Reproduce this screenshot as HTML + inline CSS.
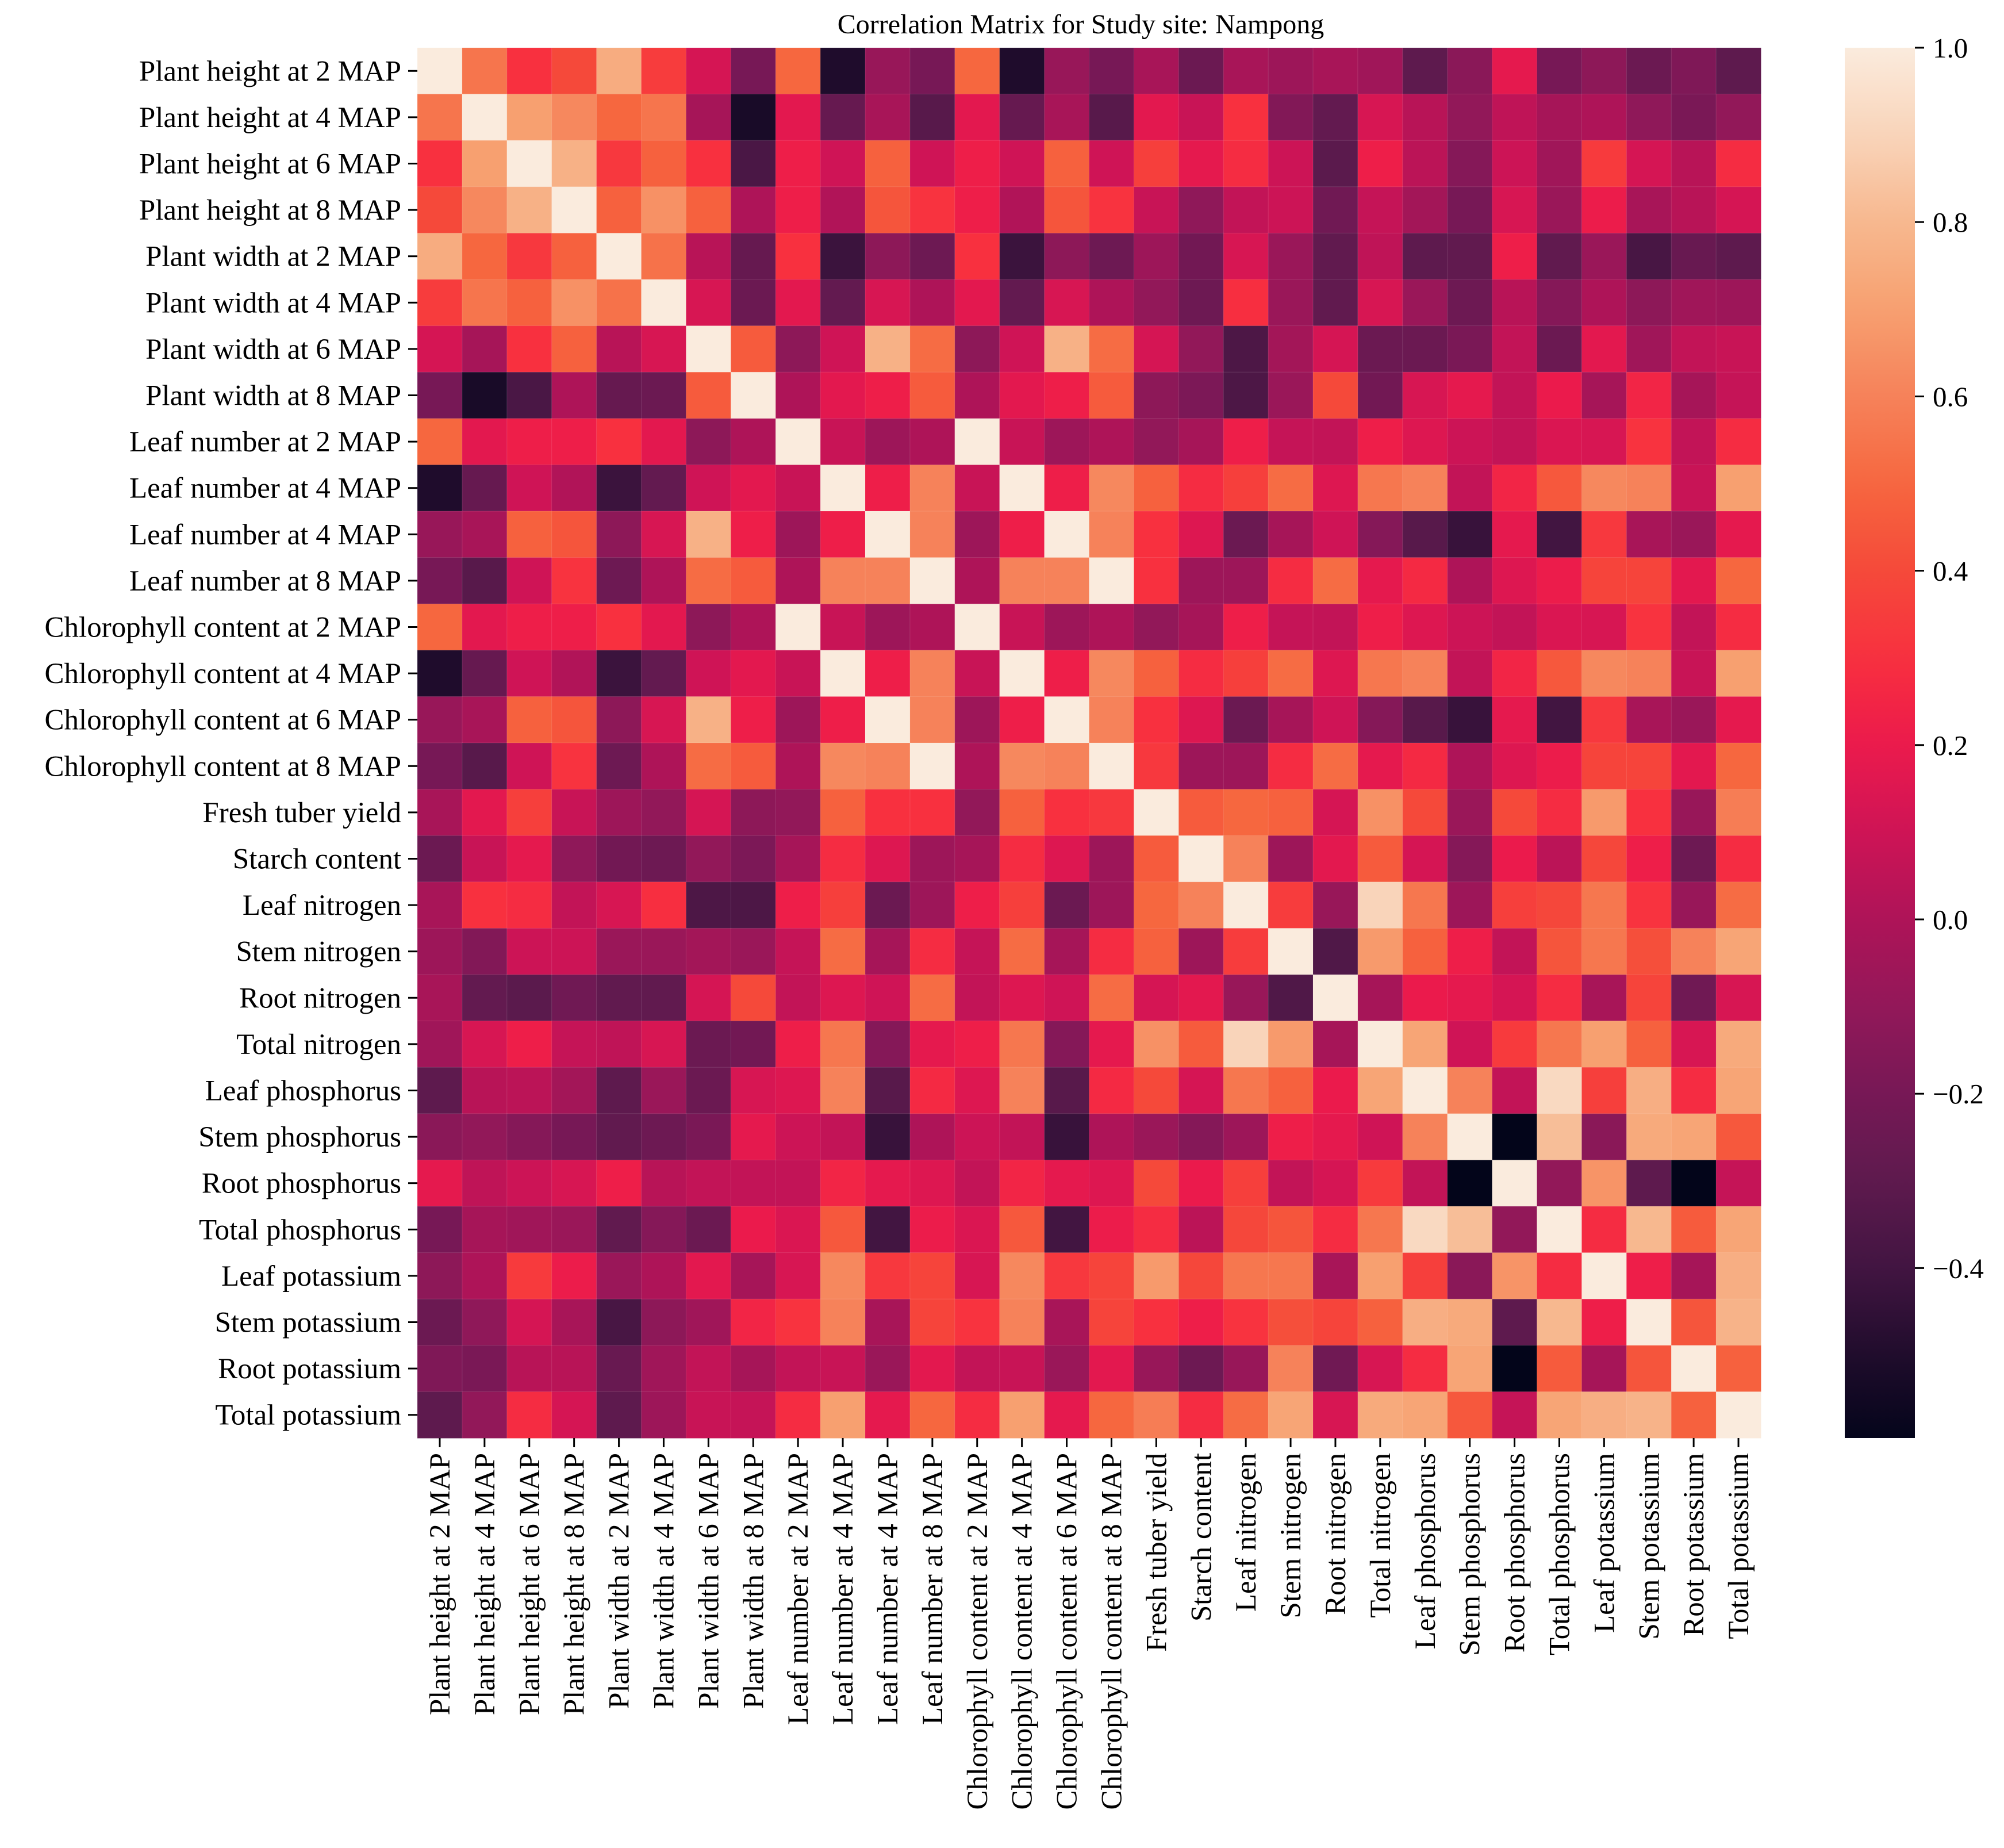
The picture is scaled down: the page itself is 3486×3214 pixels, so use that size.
<!DOCTYPE html>
<html><head><meta charset="utf-8"><style>
html,body{margin:0;padding:0;background:#fff;}
svg{display:block;}
text{font-family:"Liberation Serif",serif;fill:#000;}
</style></head><body>
<svg id="chart" width="3486" height="3214" viewBox="0 0 3486 3214" xmlns="http://www.w3.org/2000/svg">
<text x="1880" y="58" font-size="48" text-anchor="middle">Correlation Matrix for Study site: Nampong</text>
<g id="cells"></g>
<g id="ylabels"></g>
<g id="xlabels"></g>
<defs><linearGradient id="cbgrad" x1="0" y1="1" x2="0" y2="0"></linearGradient></defs>
<rect id="cbar" x="3209" y="83" width="122" height="2418" fill="url(#cbgrad)"/>
<g id="cbticks"></g>
</svg>
<script>
const labels = ["Plant height at 2 MAP","Plant height at 4 MAP","Plant height at 6 MAP","Plant height at 8 MAP","Plant width at 2 MAP","Plant width at 4 MAP","Plant width at 6 MAP","Plant width at 8 MAP","Leaf number at 2 MAP","Leaf number at 4 MAP","Leaf number at 4 MAP","Leaf number at 8 MAP","Chlorophyll content at 2 MAP","Chlorophyll content at 4 MAP","Chlorophyll content at 6 MAP","Chlorophyll content at 8 MAP","Fresh tuber yield","Starch content","Leaf nitrogen","Stem nitrogen","Root nitrogen","Total nitrogen","Leaf phosphorus","Stem phosphorus","Root phosphorus","Total phosphorus","Leaf potassium","Stem potassium","Root potassium","Total potassium"];
// upper-triangle rows: upper[i][k] = corr(i, i+k)
const upper = [
[1,0.55,0.3,0.4,0.75,0.35,0.12,-0.2,0.5,-0.5,-0.08,-0.2,0.5,-0.5,-0.08,-0.2,-0.02,-0.25,-0.02,-0.06,-0.02,-0.05,-0.3,-0.13,0.18,-0.2,-0.12,-0.25,-0.17,-0.3],
[1,0.7,0.62,0.5,0.55,-0.03,-0.52,0.17,-0.27,-0.02,-0.32,0.17,-0.27,-0.02,-0.32,0.17,0.08,0.3,-0.16,-0.28,0.13,0.03,-0.1,0.05,-0.03,0.0,-0.11,-0.19,-0.1],
[1,0.77,0.33,0.48,0.3,-0.37,0.22,0.1,0.48,0.1,0.22,0.1,0.48,0.1,0.36,0.18,0.28,0.09,-0.31,0.22,0.04,-0.15,0.09,-0.05,0.34,0.12,0.03,0.28],
[1,0.48,0.65,0.48,0.0,0.22,0.01,0.44,0.31,0.22,0.01,0.44,0.31,0.08,-0.11,0.06,0.09,-0.23,0.07,-0.04,-0.2,0.13,-0.07,0.21,-0.02,0.03,0.12],
[1,0.54,0.03,-0.27,0.3,-0.42,-0.12,-0.24,0.3,-0.42,-0.12,-0.24,-0.06,-0.22,0.13,-0.07,-0.29,0.05,-0.3,-0.29,0.22,-0.29,-0.07,-0.38,-0.26,-0.3],
[1,0.13,-0.25,0.17,-0.28,0.13,0.0,0.17,-0.28,0.13,0.0,-0.1,-0.24,0.29,-0.07,-0.29,0.13,-0.07,-0.24,0.03,-0.15,0.0,-0.12,-0.05,-0.06],
[1,0.46,-0.12,0.1,0.77,0.52,-0.12,0.1,0.77,0.52,0.12,-0.1,-0.36,-0.04,0.12,-0.25,-0.25,-0.19,0.06,-0.25,0.17,-0.05,0.06,0.08],
[1,0.0,0.17,0.22,0.46,0.0,0.17,0.22,0.46,-0.12,-0.18,-0.36,-0.07,0.4,-0.22,0.13,0.18,0.06,0.2,-0.03,0.25,-0.03,0.07],
[1,0.08,-0.06,0.0,1,0.08,-0.06,0.0,-0.1,-0.03,0.22,0.07,0.06,0.22,0.15,0.09,0.06,0.14,0.13,0.31,0.06,0.28],
[1,0.22,0.6,0.08,1,0.22,0.62,0.48,0.28,0.36,0.52,0.15,0.56,0.6,0.06,0.25,0.45,0.62,0.6,0.08,0.7],
[1,0.6,-0.06,0.22,1,0.6,0.3,0.15,-0.25,-0.03,0.1,-0.15,-0.32,-0.43,0.18,-0.4,0.33,-0.02,-0.07,0.18],
[1,0.0,0.6,0.6,1,0.3,-0.06,-0.06,0.28,0.52,0.18,0.27,0.0,0.15,0.21,0.38,0.38,0.17,0.5],
[1,0.08,-0.06,0.0,-0.1,-0.03,0.22,0.07,0.06,0.22,0.15,0.09,0.06,0.14,0.13,0.31,0.06,0.28],
[1,0.22,0.62,0.48,0.28,0.36,0.52,0.15,0.56,0.6,0.06,0.25,0.45,0.62,0.6,0.08,0.7],
[1,0.6,0.3,0.15,-0.25,-0.03,0.1,-0.15,-0.32,-0.43,0.18,-0.4,0.33,-0.02,-0.07,0.18],
[1,0.33,-0.06,-0.06,0.28,0.52,0.18,0.27,0.0,0.15,0.21,0.38,0.38,0.17,0.5],
[1,0.46,0.5,0.48,0.12,0.65,0.4,-0.07,0.4,0.28,0.68,0.3,-0.08,0.58],
[1,0.6,-0.06,0.17,0.46,0.12,-0.15,0.2,0.04,0.39,0.22,-0.24,0.28],
[1,0.35,-0.08,0.9,0.56,-0.06,0.36,0.39,0.56,0.31,-0.08,0.52],
[1,-0.35,0.68,0.48,0.22,0.06,0.44,0.56,0.42,0.6,0.72],
[1,-0.03,0.2,0.18,0.12,0.28,-0.02,0.38,-0.23,0.13],
[1,0.72,0.1,0.34,0.56,0.7,0.48,0.13,0.74],
[1,0.6,0.06,0.92,0.36,0.76,0.28,0.72],
[1,-0.6,0.82,-0.13,0.74,0.72,0.45],
[1,-0.1,0.66,-0.3,-0.6,0.07],
[1,0.28,0.8,0.46,0.72],
[1,0.22,-0.03,0.76],
[1,0.44,0.78],
[1,0.48],
[1]
];
const cbTicks = [-0.4,-0.2,0.0,0.2,0.4,0.6,0.8,1.0];
const vmin = -0.595, vmax = 1.0;

const stopVals = [-0.6,-0.5,-0.4,-0.3,-0.2,-0.1,0.0,0.1,0.2,0.3,0.4,0.5,0.6,0.7,0.8,0.9,1.0];
const stopCols = ["#03051A","#1F0C2C","#421541","#5E1A4E","#771856","#921859","#AE1458","#CF1456","#EB1A4C","#F8303F","#F5493A","#F6673F","#F6825A","#F7A070","#F7B88F","#F9D4BA","#FAEBDD"];
function hex(c){return [1,3,5].map(i=>parseInt(c.substr(i,2),16));}
function color(v){
  if(v<=stopVals[0]) return stopCols[0];
  for(let i=1;i<stopVals.length;i++){
    if(v<=stopVals[i]){
      const t=(v-stopVals[i-1])/(stopVals[i]-stopVals[i-1]);
      const a=hex(stopCols[i-1]), b=hex(stopCols[i]);
      return "rgb("+a.map((x,k)=>Math.round(x+(b[k]-x)*t)).join(",")+")";
    }
  }
  return stopCols[stopCols.length-1];
}
const NS="http://www.w3.org/2000/svg";
const X0=726, X1=3063, Y0=83, Y1=2501, n=labels.length;
const cw=(X1-X0)/n, ch=(Y1-Y0)/n;
const xPos=j=>X0+j*cw, yPos=i=>Y0+i*ch;
function val(i,j){return i<=j?upper[i][j-i]:upper[j][i-j];}
const cells=document.getElementById('cells');
for(let i=0;i<n;i++)for(let j=0;j<n;j++){
  const r=document.createElementNS(NS,'rect');
  r.setAttribute('x',xPos(j));r.setAttribute('y',yPos(i));
  r.setAttribute('width',cw+0.5);r.setAttribute('height',ch+0.5);
  r.setAttribute('fill',color(val(i,j)));
  r.setAttribute('stroke','rgba(255,255,255,0.12)');r.setAttribute('stroke-width','1');
  
  
  cells.appendChild(r);
}
const yl=document.getElementById('ylabels'), xl=document.getElementById('xlabels');
labels.forEach((lab,i)=>{
  const cy=yPos(i)+ch/2;
  const tk=document.createElementNS(NS,'line');
  tk.setAttribute('x1',X0-16);tk.setAttribute('x2',X0);tk.setAttribute('y1',cy);tk.setAttribute('y2',cy);
  tk.setAttribute('stroke','#000');tk.setAttribute('stroke-width','3');
  
  
  yl.appendChild(tk);
  const t=document.createElementNS(NS,'text');
  t.setAttribute('x',X0-28);t.setAttribute('y',cy+17);t.setAttribute('font-size','51');
  t.setAttribute('text-anchor','end');t.textContent=lab;
  
  
  yl.appendChild(t);
  const cx=xPos(i)+cw/2;
  const tx=document.createElementNS(NS,'line');
  tx.setAttribute('x1',cx);tx.setAttribute('x2',cx);tx.setAttribute('y1',Y1);tx.setAttribute('y2',Y1+16);
  tx.setAttribute('stroke','#000');tx.setAttribute('stroke-width','3');
  
  
  xl.appendChild(tx);
  const u=document.createElementNS(NS,'text');
  u.setAttribute('transform','translate('+(cx+17)+','+(Y1+26)+') rotate(-90)');
  u.setAttribute('font-size','51');u.setAttribute('text-anchor','end');u.textContent=lab;
  
  
  xl.appendChild(u);
});
const grad=document.getElementById('cbgrad');
for(let k=0;k<=40;k++){
  const v=vmin+(vmax-vmin)*k/40;
  const s=document.createElementNS(NS,'stop');
  s.setAttribute('offset',(k/40));s.setAttribute('stop-color',color(v));
  grad.appendChild(s);
}
const cbt=document.getElementById('cbticks');
const cbY=v=>Y0+(vmax-v)/(vmax-vmin)*(Y1-Y0);
cbTicks.forEach(v=>{
  const y=cbY(v);
  const l=document.createElementNS(NS,'line');
  l.setAttribute('x1',3331);l.setAttribute('x2',3347);l.setAttribute('y1',y);l.setAttribute('y2',y);
  l.setAttribute('stroke','#000');l.setAttribute('stroke-width','3');
  
  
  cbt.appendChild(l);
  const t=document.createElementNS(NS,'text');
  t.setAttribute('x',3362);t.setAttribute('y',y+17);t.setAttribute('font-size','49');
  t.textContent=(v<0?'\u2212':'')+Math.abs(v).toFixed(1);
  
  
  cbt.appendChild(t);
});
</script>
</body></html>
